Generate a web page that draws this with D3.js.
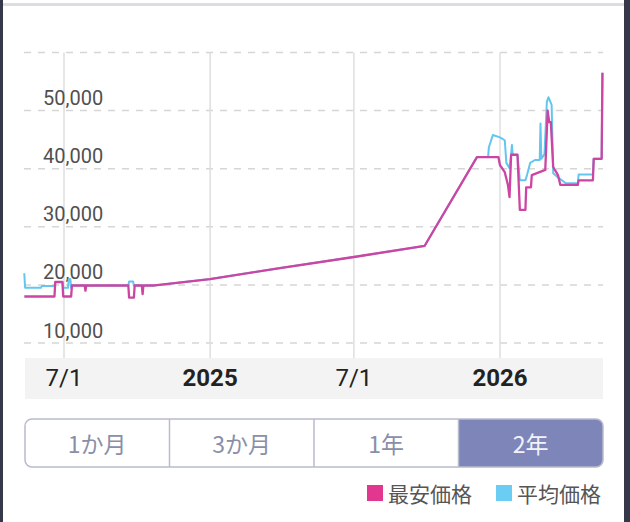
<!DOCTYPE html>
<html><head><meta charset="utf-8">
<script src="https://cdn.jsdelivr.net/npm/d3@7"></script>
<style>
html,body{margin:0;padding:0;background:#fff;}
svg{display:block;}
</style></head>
<body>
<svg id="chart" width="630" height="522"></svg>
<script>
// ---- data ----
const minPriceSeries = [
  ["2024-05-12",18000],["2024-06-19",18000],["2024-06-20",20500],["2024-06-29",20500],
  ["2024-06-30",18000],["2024-07-10",18000],["2024-07-11",19900],["2024-07-27",19900],
  ["2024-07-28",19000],["2024-07-29",19900],["2024-09-20",19900],["2024-09-21",17800],
  ["2024-09-27",17800],["2024-09-28",19900],["2024-10-07",19900],["2024-10-08",18400],
  ["2024-10-09",19900],["2024-10-23",19900],
  ["2025-01-01",21000],["2025-03-30",22900],["2025-07-01",24800],["2025-09-28",26700],
  ["2025-12-03",42000],["2025-12-30",42000],["2026-01-01",40600],["2026-01-07",39400],
  ["2026-01-11",37200],["2026-01-13",35100],["2026-01-15",42400],["2026-01-23",42400],
  ["2026-01-26",32900],["2026-02-02",32900],["2026-02-03",36800],["2026-02-09",36800],
  ["2026-02-10",38900],["2026-02-27",39800],["2026-03-02",50000],["2026-03-04",48000],
  ["2026-03-06",48000],["2026-03-09",40300],["2026-03-15",38900],["2026-03-18",37200],
  ["2026-04-09",37200],["2026-04-10",38000],["2026-04-28",38000],["2026-04-29",41700],
  ["2026-05-09",41700],["2026-05-10",56500]
];
const avgPriceSeries = [
  ["2024-05-12",22000],["2024-05-13",19500],["2024-06-02",19500],["2024-06-03",19800],
  ["2024-06-19",19800],["2024-06-20",20500],["2024-06-29",20500],["2024-06-30",19500],
  ["2024-07-06",19500],["2024-07-07",21000],["2024-07-09",21000],["2024-07-10",19500],
  ["2024-07-11",19900],["2024-09-20",19900],["2024-09-21",20600],["2024-09-26",20600],
  ["2024-09-27",19900],["2024-10-23",19900],
  ["2025-01-01",21000],["2025-03-30",22900],["2025-07-01",24800],["2025-09-28",26700],
  ["2025-12-03",42000],["2025-12-17",42000],["2025-12-18",43700],["2025-12-23",45800],
  ["2026-01-01",45400],["2026-01-07",44900],["2026-01-09",41000],["2026-01-13",40100],
  ["2026-01-15",42400],["2026-01-16",44100],["2026-01-17",42400],["2026-01-23",42400],
  ["2026-01-26",38000],["2026-02-02",38000],["2026-02-04",38900],["2026-02-08",41000],
  ["2026-02-14",41500],["2026-02-20",41500],["2026-02-21",47800],["2026-02-22",41700],
  ["2026-02-26",42500],["2026-03-01",51500],["2026-03-03",52300],["2026-03-07",51000],
  ["2026-03-09",39200],["2026-03-15",38500],["2026-03-25",37500],["2026-04-09",37500],
  ["2026-04-10",39000],["2026-04-28",39000],["2026-04-29",41700],["2026-05-09",41700],
  ["2026-05-10",56500]
];
const yTickValues = [10000,20000,30000,40000,50000,60000];
const yTickLabels = ["10,000","20,000","30,000","40,000","50,000",""];
const xTickDates = ["2024-07-01","2025-01-01","2025-07-01","2026-01-01"];
const xTickLabels = ["7/1","2025","7/1","2026"];
const xTickBold = [false,true,false,true];
const rangeButtons = ["1か月","3か月","1年","2年"];
const selectedRange = 3;
const legendLabels = ["最安価格","平均価格"];
const legendColors = ["#e2378f","#6ccdf4"];

// ---- layout ----
const parse = d3.utcParse("%Y-%m-%d");
const svg = d3.select("#chart");
const W = 630, H = 522;
const plotLeft = 24, plotRight = 603;

// frame
svg.append("rect").attr("x",0).attr("y",0).attr("width",W).attr("height",H).attr("fill","#fff");
svg.append("rect").attr("x",0).attr("y",3).attr("width",W).attr("height",3).attr("fill","#dcdde3");
svg.append("rect").attr("x",0).attr("y",0).attr("width",3).attr("height",H).attr("fill","#353849");
svg.append("rect").attr("x",624).attr("y",0).attr("width",6).attr("height",H).attr("fill","#353849");

const x = d3.scaleUtc()
  .domain([parse("2024-07-01"), parse("2026-01-01")])
  .range([64, 500]);
const y = d3.scaleLinear().domain([10000,60000]).range([343,52.5]);

// horizontal dashed grid
svg.append("g").selectAll("line").data(yTickValues).join("line")
  .attr("x1",plotLeft).attr("x2",plotRight)
  .attr("y1",d=>y(d)).attr("y2",d=>y(d))
  .attr("stroke","#d6d6d6").attr("stroke-width",1.5).attr("stroke-dasharray","7,7");

// vertical grid
svg.append("g").selectAll("line").data(xTickDates).join("line")
  .attr("x1",d=>x(parse(d))).attr("x2",d=>x(parse(d)))
  .attr("y1",y(60000)).attr("y2",358)
  .attr("stroke","#dedede").attr("stroke-width",1.5);

// y labels
svg.append("g").selectAll("text").data(yTickValues).join("text")
  .attr("x",43).attr("y",d=>y(d)-5.5)
  .attr("font-family","Roboto, 'Noto Sans', sans-serif").attr("font-size",20)
  .attr("fill","#505050")
  .text((d,i)=>yTickLabels[i]);

// lines
const line = d3.line().x(d=>x(parse(d[0]))).y(d=>y(d[1])).curve(d3.curveLinear);
svg.append("path").datum(avgPriceSeries).attr("d",line)
  .attr("fill","none").attr("stroke","#62c6ef").attr("stroke-width",2).attr("stroke-linejoin","round");
svg.append("path").datum(minPriceSeries).attr("d",line)
  .attr("fill","none").attr("stroke","#cc45a2").attr("stroke-width",2.3).attr("stroke-linejoin","round");

// x axis band
svg.append("rect").attr("x",25).attr("y",358).attr("width",578).attr("height",41).attr("fill","#f3f3f3");
svg.append("g").selectAll("text").data(xTickDates).join("text")
  .attr("x",d=>x(parse(d))).attr("y",386)
  .attr("text-anchor","middle")
  .attr("font-family","Roboto, 'Noto Sans', sans-serif").attr("font-size",24)
  .attr("font-weight",(d,i)=>xTickBold[i]?700:400)
  .attr("fill","#222")
  .text((d,i)=>xTickLabels[i]);

// range buttons
const bx = d3.scaleBand().domain(d3.range(rangeButtons.length)).range([25,603]);
const bTop = 419, bH = 48, r = 7;
const bg = svg.append("g");
// selected segment fill with rounded right corners
{
  const sx = bx(selectedRange), sw = bx.bandwidth();
  const x0 = sx, x1 = sx+sw, y0 = bTop, y1 = bTop+bH;
  bg.append("path")
    .attr("d",`M${x0},${y0}H${x1-r}A${r},${r} 0 0 1 ${x1},${y0+r}V${y1-r}A${r},${r} 0 0 1 ${x1-r},${y1}H${x0}Z`)
    .attr("fill","#7e86b9");
}
bg.append("rect").attr("x",25).attr("y",bTop).attr("width",578).attr("height",bH)
  .attr("rx",r).attr("fill","none").attr("stroke","#b8bccc").attr("stroke-width",1.5);
bg.selectAll("line.div").data(d3.range(1,rangeButtons.length)).join("line")
  .attr("class","div")
  .attr("x1",d=>bx(d)).attr("x2",d=>bx(d)).attr("y1",bTop).attr("y2",bTop+bH)
  .attr("stroke","#b8bccc").attr("stroke-width",1.5);
bg.selectAll("text").data(rangeButtons).join("text")
  .attr("x",(d,i)=>bx(i)+bx.bandwidth()/2).attr("y",bTop+bH/2)
  .attr("text-anchor","middle").attr("dominant-baseline","central")
  .attr("font-family","'Noto Sans CJK JP', sans-serif").attr("font-size",23)
  .attr("fill",(d,i)=>i===selectedRange?"#f2f3fa":"#8a8fa9")
  .text(d=>d);

// legend
const legX = [367,496];
const lg = svg.append("g");
lg.selectAll("rect").data(legendLabels).join("rect")
  .attr("x",(d,i)=>legX[i]).attr("y",485).attr("width",16).attr("height",16)
  .attr("fill",(d,i)=>legendColors[i]);
lg.selectAll("text").data(legendLabels).join("text")
  .attr("x",(d,i)=>legX[i]+21).attr("y",493)
  .attr("dominant-baseline","central")
  .attr("font-family","'Noto Sans CJK JP', sans-serif").attr("font-size",21)
  .attr("fill","#555")
  .text(d=>d);
</script>
</body></html>
